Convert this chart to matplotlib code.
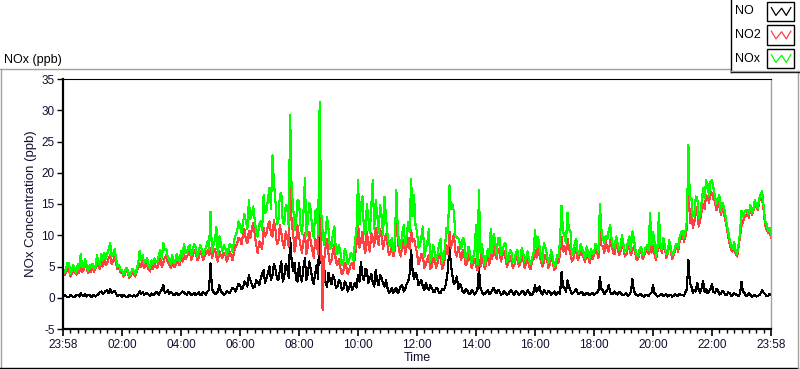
import numpy as np
import matplotlib
matplotlib.use("Agg")
import matplotlib.pyplot as plt
from matplotlib.lines import Line2D
from matplotlib.patches import Rectangle

plt.rcParams['font.family'] = ['Liberation Sans', 'DejaVu Sans']

# ---- data: samples every 3 minutes from 23:58 to 23:58 ----
# "_a" = readings at 0, 6, 12, ... min ; "_b" = readings at 3, 9, 15, ... min
step_min = 3
no2_a = [
    4.3, 4.0, 4.5, 3.8, 4.2, 4.6, 5.2, 4.4, 4.8, 4.6,
    5.0, 4.7, 5.1, 5.8, 6.2, 5.6, 6.8, 6.0, 5.4, 4.8,
    4.2, 3.8, 4.0, 3.5, 3.8, 4.2, 5.5, 5.8, 5.0, 4.6,
    5.2, 5.6, 4.8, 6.2, 5.6, 6.8, 5.4, 5.8, 5.0, 5.6,
    6.4, 7.0, 6.5, 7.4, 6.8, 7.2, 6.3, 7.0, 6.6, 7.6,
    8.0, 7.2, 6.6, 7.4, 6.3, 7.0, 6.5, 6.8, 7.4, 8.6,
    9.4, 10.0, 9.2, 10.6, 11.0, 10.2, 7.2, 8.6, 11.2, 10.4,
    12.2, 9.8, 11.0, 9.0, 10.4, 8.0, 9.6, 19.6, 10.4, 8.8,
    9.8, 7.2, 10.4, 8.2, 9.0, 6.4, 8.6, 22.3, -2.0, 8.0,
    7.0, 6.0, 8.4, 5.2, 4.8, 4.2, 5.0, 4.4, 5.6, 6.8,
    12.4, 9.0, 8.2, 10.6, 7.4, 9.6, 11.2, 8.4, 10.0, 9.2,
    8.6, 7.2, 6.6, 13.4, 7.4, 8.4, 7.0, 9.6, 10.8, 9.4,
    7.2, 6.0, 6.6, 5.4, 6.8, 5.0, 6.2, 5.6, 6.6, 5.2,
    8.4, 10.6, 9.0, 7.4, 8.2, 6.0, 6.8, 5.6, 6.4, 5.4,
    5.2, 6.0, 7.6, 4.6, 6.6, 7.4, 8.6, 6.2, 7.4, 6.8,
    6.4, 5.6, 6.0, 5.2, 6.8, 5.4, 6.2, 5.6, 5.0, 5.8,
    7.6, 8.4, 6.0, 5.6, 6.4, 5.2, 5.8, 4.8, 5.6, 9.8,
    8.2, 9.4, 7.0, 6.2, 8.0, 6.6, 7.0, 5.8, 6.6, 7.2,
    6.8, 7.4, 12.3, 8.2, 9.0, 7.4, 8.6, 7.0, 8.2, 7.4,
    8.0, 7.0, 8.4, 7.6, 7.2, 6.4, 7.6, 6.8, 8.0, 10.8,
    8.4, 6.0, 9.8, 7.2, 8.0, 7.0, 7.6, 6.8, 8.2, 9.0,
    10.2, 9.8, 20.0, 14.2, 12.0, 13.6, 12.4, 15.0, 16.4, 15.2,
    16.6, 15.4, 14.6, 13.2, 13.8, 11.2, 8.6, 7.4, 7.0, 8.2,
    11.4, 12.8, 13.6, 14.4, 13.8, 14.6, 15.4, 15.8, 11.6, 10.4,
    9.6,
]
no2_b = [
    3.6, 4.8, 3.4, 4.6, 3.7, 4.0, 4.2, 5.2, 3.9, 4.2,
    4.2, 5.6, 4.6, 5.0, 5.2, 6.4, 5.4, 6.6, 4.6, 4.0,
    3.4, 4.4, 3.2, 4.2, 3.4, 4.8, 4.9, 4.8, 5.6, 4.2,
    4.6, 5.0, 5.6, 5.0, 6.4, 5.6, 4.8, 5.0, 6.0, 5.2,
    5.8, 6.2, 7.2, 6.0, 7.6, 6.0, 7.4, 6.0, 7.2, 6.8,
    6.4, 7.8, 5.8, 6.8, 7.2, 5.8, 7.4, 6.0, 8.2, 9.6,
    8.6, 11.0, 8.8, 9.6, 12.0, 8.4, 9.0, 7.8, 9.8, 11.6,
    10.2, 12.4, 8.6, 11.6, 8.8, 10.6, 8.2, 12.0, 7.4, 11.6,
    8.4, 9.0, 7.0, 10.6, 7.6, 9.4, 7.0, 9.2, 6.0, 9.4,
    5.4, 7.4, 5.8, 6.2, 3.8, 5.6, 3.8, 5.2, 4.6, 8.6,
    8.0, 10.6, 7.2, 8.6, 10.4, 8.2, 9.6, 11.0, 7.8, 10.2,
    6.8, 8.2, 7.8, 9.0, 6.6, 9.2, 8.2, 7.8, 9.0, 8.2,
    5.4, 7.0, 4.8, 6.2, 4.6, 6.4, 4.8, 7.0, 4.6, 6.4,
    7.0, 8.0, 10.2, 6.6, 7.0, 7.6, 5.2, 6.8, 4.8, 6.2,
    4.4, 5.0, 5.6, 5.8, 5.2, 6.2, 7.0, 7.8, 5.8, 7.4,
    5.0, 6.6, 4.8, 6.2, 5.0, 6.8, 4.8, 6.4, 4.6, 6.2,
    6.4, 6.8, 5.0, 6.8, 4.8, 6.4, 4.4, 6.0, 7.0, 7.4,
    7.0, 8.0, 5.8, 7.4, 6.0, 7.6, 6.4, 7.4, 5.6, 6.2,
    7.8, 6.4, 8.4, 7.2, 8.0, 9.2, 7.2, 8.6, 6.8, 8.8,
    6.6, 8.0, 6.8, 8.2, 6.0, 7.2, 6.2, 7.4, 7.0, 7.2,
    7.0, 7.4, 8.0, 8.6, 6.4, 8.4, 6.2, 7.6, 7.4, 9.6,
    9.0, 11.2, 12.0, 11.2, 14.6, 11.4, 13.8, 14.2, 16.2, 17.0,
    15.8, 14.0, 15.4, 14.4, 12.4, 9.8, 7.6, 8.4, 6.6, 9.8,
    12.2, 13.2, 12.8, 13.2, 15.0, 14.0, 16.0, 14.0, 11.0, 10.8,
]
no_a = [
    0.2, 0.3, 0.1, 0.3, 0.2, 0.5, 0.7, 0.3, 0.2, 0.4,
    0.3, 0.2, 0.6, 1.0, 0.8, 1.2, 1.4, 0.9, 0.6, 0.4,
    0.2, 0.3, 0.2, 0.3, 0.4, 0.3, 1.1, 0.9, 0.6, 0.5,
    0.7, 0.6, 0.8, 1.0, 2.0, 0.9, 0.6, 0.8, 0.5, 0.4,
    0.7, 0.9, 0.5, 0.8, 0.6, 0.4, 0.9, 0.5, 0.7, 1.0,
    5.5, 0.9, 0.7, 2.0, 0.8, 0.6, 0.9, 1.2, 1.4, 1.6,
    2.0, 1.6, 2.4, 3.6, 2.2, 1.8, 2.6, 3.0, 4.4, 3.2,
    5.0, 3.6, 4.6, 2.8, 5.8, 3.4, 4.8, 9.5, 4.2, 3.0,
    5.6, 2.6, 6.4, 3.8, 4.6, 2.2, 5.2, 15.0, 3.6, 2.4,
    4.0, 2.2, 3.0, 1.8, 2.6, 1.4, 2.2, 1.6, 1.2, 2.4,
    3.6, 5.8, 2.8, 4.4, 3.0, 2.4, 4.4, 2.0, 3.2, 1.8,
    1.6, 1.0, 0.8, 1.6, 1.2, 2.0, 1.4, 2.6, 7.6, 3.0,
    3.4, 2.4, 1.8, 2.4, 1.2, 1.6, 0.9, 1.4, 0.8, 1.2,
    2.8, 8.6, 3.6, 2.6, 1.4, 1.8, 0.8, 1.2, 0.6, 1.0,
    0.8, 4.7, 1.0, 0.6, 1.2, 0.8, 1.6, 0.7, 1.0, 0.6,
    0.8, 0.6, 1.2, 0.5, 0.9, 0.6, 1.0, 0.7, 0.9, 0.5,
    2.0, 1.4, 0.8, 1.2, 0.6, 1.0, 0.7, 0.5, 0.9, 4.1,
    1.6, 2.8, 1.2, 0.8, 1.4, 0.6, 0.9, 0.5, 0.7, 0.6,
    0.5, 0.8, 3.3, 1.2, 0.9, 2.0, 0.6, 1.0, 0.5, 0.8,
    0.4, 0.7, 0.5, 3.0, 0.6, 0.3, 0.5, 0.2, 0.4, 0.6,
    2.1, 0.5, 0.3, 0.6, 0.4, 0.2, 0.5, 0.3, 0.4, 0.6,
    0.5, 0.9, 6.0, 1.8, 1.2, 2.4, 0.8, 2.6, 1.4, 1.0,
    2.2, 0.8, 1.2, 0.6, 0.9, 0.5, 0.7, 0.4, 0.6, 0.3,
    2.5, 0.8, 0.4, 0.5, 0.3, 0.2, 0.4, 1.2, 0.6, 0.3,
    0.5,
]
no_b = [
    0.4, 0.1, 0.4, 0.1, 0.4, 0.2, 0.4, 0.6, 0.5, 0.1,
    0.5, 0.4, 0.9, 0.6, 1.1, 0.7, 0.8, 1.1, 0.3, 0.5,
    0.4, 0.1, 0.4, 0.2, 0.2, 0.6, 0.6, 0.5, 0.8, 0.3,
    0.4, 0.9, 0.5, 1.3, 0.8, 1.2, 0.9, 0.4, 0.8, 0.6,
    1.0, 0.6, 0.9, 0.4, 0.8, 0.6, 0.4, 0.9, 0.5, 1.2,
    1.4, 0.6, 1.0, 1.0, 0.5, 1.1, 0.7, 1.6, 1.0, 2.2,
    1.4, 2.6, 1.8, 2.8, 1.6, 2.8, 2.0, 3.8, 2.4, 4.0,
    2.8, 5.4, 3.2, 4.4, 2.6, 5.4, 3.2, 6.0, 5.6, 2.6,
    3.4, 4.8, 2.8, 5.8, 3.0, 4.0, 3.0, 6.2, 5.0, 1.8,
    2.8, 3.6, 1.6, 2.8, 1.2, 2.6, 1.0, 2.4, 1.8, 1.6,
    2.6, 3.6, 4.6, 2.4, 3.8, 1.8, 2.8, 3.6, 2.2, 2.8,
    0.8, 1.6, 1.2, 0.7, 1.8, 1.0, 2.2, 3.8, 4.4, 4.0,
    2.0, 2.8, 1.2, 1.6, 2.0, 1.0, 1.6, 0.7, 1.4, 1.6,
    4.6, 5.2, 2.2, 3.4, 2.2, 1.0, 1.4, 0.6, 1.2, 0.5,
    1.4, 1.6, 0.5, 1.0, 0.6, 1.2, 0.9, 1.3, 0.5, 1.1,
    0.5, 1.0, 0.7, 1.0, 0.4, 1.1, 0.5, 1.2, 0.4, 0.9,
    1.0, 1.8, 0.5, 0.9, 1.1, 0.5, 1.0, 0.7, 0.6, 1.8,
    0.9, 1.8, 0.6, 1.1, 0.7, 0.9, 0.4, 0.8, 0.4, 0.8,
    0.7, 1.2, 1.4, 0.6, 1.2, 0.9, 0.7, 0.6, 0.9, 0.5,
    0.6, 0.3, 0.9, 1.2, 0.4, 0.6, 0.3, 0.5, 0.3, 0.8,
    0.8, 0.2, 0.5, 0.3, 0.6, 0.4, 0.2, 0.6, 0.3, 0.4,
    0.3, 1.4, 2.4, 0.8, 1.0, 1.2, 1.6, 0.9, 0.7, 1.4,
    0.9, 1.4, 0.5, 1.1, 0.4, 0.9, 0.3, 0.7, 0.4, 0.6,
    0.9, 0.3, 0.7, 0.2, 0.5, 0.3, 0.7, 0.8, 0.3, 0.6,
]
nox_a = [
    4.8, 4.5, 5.6, 4.4, 4.6, 5.4, 7.0, 4.9, 5.2, 5.2,
    5.4, 5.0, 5.9, 7.0, 7.2, 7.0, 8.7, 7.0, 6.2, 5.3,
    4.5, 4.2, 4.3, 3.9, 4.3, 4.6, 7.5, 6.8, 5.7, 5.2,
    6.0, 6.3, 5.8, 7.6, 8.8, 7.8, 6.2, 6.8, 5.6, 6.2,
    7.4, 8.6, 7.2, 8.4, 7.6, 8.0, 7.4, 7.8, 7.6, 9.0,
    13.8, 8.4, 11.3, 9.8, 7.4, 8.0, 7.6, 8.4, 9.2, 10.6,
    11.6, 12.0, 12.2, 15.6, 13.4, 12.4, 9.8, 12.2, 16.4, 14.0,
    17.6, 22.8, 15.6, 12.2, 16.8, 11.8, 14.6, 29.3, 14.8, 12.0,
    15.4, 10.2, 19.1, 12.4, 14.0, 9.6, 14.2, 31.3, 10.5, 10.4,
    11.0, 8.2, 11.4, 7.0, 7.4, 5.6, 7.2, 6.0, 6.8, 9.2,
    18.8, 14.8, 11.0, 15.0, 10.4, 18.8, 15.6, 10.4, 13.2, 16.2,
    10.2, 8.2, 7.4, 17.2, 8.6, 10.4, 8.4, 12.2, 19.0, 16.4,
    10.6, 8.4, 11.4, 7.8, 11.0, 6.6, 7.1, 7.0, 9.4, 6.4,
    11.2, 18.0, 15.0, 10.0, 9.6, 7.8, 9.3, 6.8, 7.0, 6.4,
    11.6, 17.2, 8.6, 5.2, 7.8, 11.0, 10.2, 6.9, 9.6, 7.4,
    8.7, 6.2, 7.2, 5.7, 7.7, 6.0, 7.2, 6.3, 5.9, 6.3,
    10.8, 9.8, 6.8, 8.7, 7.0, 6.2, 6.5, 5.3, 6.5, 14.7,
    9.8, 13.6, 10.8, 7.0, 9.4, 7.2, 7.9, 6.3, 7.3, 7.8,
    7.3, 8.2, 15.0, 9.4, 9.9, 10.8, 9.2, 8.0, 8.7, 8.2,
    8.4, 7.7, 9.8, 10.6, 7.8, 6.7, 8.1, 7.0, 8.4, 13.5,
    10.5, 6.5, 13.5, 7.8, 8.4, 7.2, 8.1, 7.1, 8.6, 9.6,
    10.7, 10.7, 24.4, 16.0, 13.2, 16.0, 13.2, 17.6, 18.8, 16.2,
    18.8, 16.2, 15.8, 13.8, 14.7, 11.7, 9.3, 7.8, 7.6, 8.5,
    13.9, 13.6, 14.0, 14.9, 14.1, 14.8, 15.8, 17.0, 12.2, 10.7,
    10.1,
]
nox_b = [
    4.0, 5.6, 3.8, 5.2, 4.0, 4.6, 5.0, 6.2, 4.3, 4.8,
    4.6, 6.8, 5.2, 6.0, 6.2, 7.8, 6.6, 7.8, 5.0, 4.4,
    3.7, 4.8, 3.5, 4.6, 3.8, 5.6, 6.0, 5.6, 6.4, 4.8,
    5.4, 5.8, 6.8, 6.2, 7.6, 6.6, 5.4, 5.6, 7.0, 5.8,
    6.6, 7.2, 8.2, 6.8, 8.6, 6.6, 8.4, 6.8, 8.0, 7.8,
    7.4, 9.2, 6.8, 8.8, 8.4, 6.8, 8.6, 7.4, 10.0, 12.2,
    10.4, 13.4, 11.0, 12.6, 14.6, 10.6, 11.8, 10.8, 13.6, 15.8,
    14.2, 18.4, 11.8, 16.4, 12.0, 14.8, 11.4, 17.2, 10.8, 15.6,
    11.6, 13.6, 9.8, 15.2, 10.8, 13.8, 10.2, 14.0, 8.4, 13.0,
    7.8, 10.4, 7.6, 8.4, 5.2, 7.8, 5.4, 7.2, 6.0, 11.0,
    11.8, 16.2, 10.2, 12.8, 14.6, 11.0, 13.4, 14.8, 10.0, 12.8,
    8.6, 9.6, 9.0, 10.8, 8.0, 11.6, 10.0, 10.6, 13.0, 11.6,
    8.0, 9.8, 6.6, 8.8, 5.8, 8.4, 6.0, 8.6, 5.6, 8.2,
    10.4, 14.2, 13.8, 9.6, 8.8, 9.6, 6.2, 8.2, 5.6, 7.4,
    5.4, 7.2, 6.8, 6.6, 6.6, 7.2, 9.0, 9.6, 6.8, 8.6,
    5.8, 7.6, 5.8, 7.2, 5.8, 8.0, 5.8, 7.4, 5.4, 7.2,
    8.0, 8.4, 5.8, 8.2, 5.6, 7.6, 5.0, 6.8, 9.4, 10.6,
    8.8, 10.8, 6.8, 8.8, 7.0, 8.6, 7.2, 8.2, 6.4, 7.0,
    8.6, 7.4, 11.0, 8.8, 9.4, 11.6, 8.2, 9.8, 7.6, 10.0,
    7.4, 9.0, 7.6, 9.6, 6.8, 7.8, 6.8, 8.0, 7.6, 8.4,
    9.0, 8.0, 8.6, 9.6, 7.0, 9.2, 6.8, 8.2, 8.0, 10.4,
    9.6, 12.2, 15.6, 13.0, 16.2, 12.8, 15.4, 16.0, 18.2, 18.6,
    17.6, 15.0, 16.4, 15.2, 13.4, 10.6, 8.4, 9.0, 7.0, 10.4,
    13.0, 14.0, 13.4, 13.6, 15.6, 14.4, 16.6, 14.6, 11.8, 11.2,
]
series_names = ["NO", "NO2", "NOx"]
x_tick_labels = ["23:58", "02:00", "04:00", "06:00", "08:00", "10:00", "12:00",
                 "14:00", "16:00", "18:00", "20:00", "22:00", "23:58"]
y_ticks = [-5, 0, 5, 10, 15, 20, 25, 30, 35]


def merge(a, b):
    out = np.empty(len(a) + len(b))
    out[0::2] = a
    out[1::2] = b
    return out


no = merge(no_a, no_b)
no2 = merge(no2_a, no2_b)
nox = merge(nox_a, nox_b)
t = np.arange(len(no2)) * step_min

W, H = 800, 369
fig = plt.figure(figsize=(W / 100, H / 100), dpi=100)
fig.patch.set_facecolor("white")


def fx(px):
    return px / W


def fy(py):
    return 1 - py / H


ax = fig.add_axes([fx(63), fy(329), fx(771) - fx(63), fy(79) - fy(329)])
ax.set_facecolor("white")

colors = {"NO": "#000000", "NO2": "#ff4040", "NOx": "#00ff00"}
for name, vals in zip(series_names, [no, no2, nox]):
    ax.plot(t, vals, color=colors[name], lw=0.8, antialiased=False)

ax.set_xlim(0, 1440)
ax.set_ylim(-5, 35)
ax.set_xticks(np.arange(0, 1441, 120))
ax.set_xticklabels(x_tick_labels)
ax.set_xticks(np.arange(0, 1441, 15), minor=True)
ax.set_yticks(y_ticks)
ax.set_yticklabels([str(v) for v in y_ticks])

tick_color = "#101030"
ax.tick_params(axis="x", which="major", direction="out", length=5, width=1.2,
               colors="black", labelcolor=tick_color, labelsize=8.5, pad=2)
ax.tick_params(axis="x", which="minor", direction="out", length=3, width=1.0, colors="black")
ax.tick_params(axis="y", which="major", direction="out", length=4, width=1.0,
               colors="black", labelcolor=tick_color, labelsize=8.5, pad=2)

for s in ["left", "bottom"]:
    ax.spines[s].set_color("black")
    ax.spines[s].set_linewidth(1.6)
ax.spines["top"].set_color("black")
ax.spines["top"].set_linewidth(0.8)
ax.spines["right"].set_color("#a0a0a0")
ax.spines["right"].set_linewidth(1.0)

ax.set_xlabel("Time", fontsize=9, color=tick_color, labelpad=1)
ax.set_ylabel("NOx Concentration (ppb)", fontsize=9.5, color=tick_color, labelpad=3)

# chart title
fig.text(fx(4), fy(60), "NOx (ppb)", fontsize=9, color="black", ha="left", va="center")

# outer frame
frame_gray = "#a0a0a0"
fig.add_artist(Line2D([fx(0), fx(730)], [fy(68.5), fy(68.5)], color=frame_gray, lw=1.0))
fig.add_artist(Line2D([fx(0.5), fx(0.5)], [fy(68.5), fy(368)], color=frame_gray, lw=1.0))
fig.add_artist(Line2D([fx(0), fx(798)], [fy(367.5), fy(367.5)], color="black", lw=1.0))
fig.add_artist(Line2D([fx(797.5), fx(797.5)], [fy(71), fy(368)], color=frame_gray, lw=1.0))

# legend box
fig.add_artist(Line2D([fx(730.5), fx(730.5)], [fy(0), fy(71.5)], color="black", lw=1.0))
fig.add_artist(Line2D([fx(730.5), fx(800)], [fy(71.5), fy(71.5)], color="black", lw=1.0))
fig.add_artist(Line2D([fx(730), fx(800)], [fy(70.5), fy(70.5)], color=frame_gray, lw=1.0))

leg_rows = [11.5, 35, 58.5]
zig = np.array([[0.1, 0.8], [0.3, 0.2], [0.55, 0.75], [0.75, 0.2], [0.95, 0.8]])
for name, yc in zip(series_names, leg_rows):
    fig.text(fx(735), fy(yc), name, fontsize=9, color="black", ha="left", va="center")
    x0, x1 = 767, 794
    y0, y1 = yc - 9.5, yc + 9.5
    fig.add_artist(Rectangle((fx(x0), fy(y1)), fx(x1) - fx(x0), fy(y0) - fy(y1),
                             facecolor="white", edgecolor="black", lw=1.0,
                             transform=fig.transFigure))
    xs = fx(x0 + 2) + zig[:, 0] * (fx(x1 - 2) - fx(x0 + 2))
    ys = fy(y1 - 3) + zig[:, 1] * (fy(y0 + 3) - fy(y1 - 3))
    fig.add_artist(Line2D(xs, ys, color=colors[name], lw=0.9))

fig.savefig("out.png", dpi=100, facecolor="white")
